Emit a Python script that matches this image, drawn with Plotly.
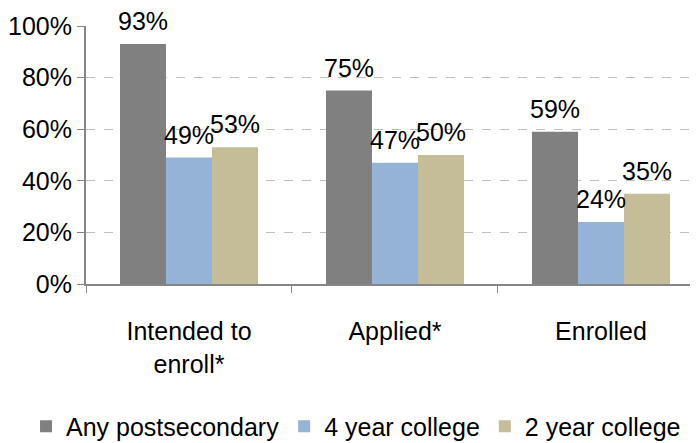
import plotly.graph_objects as go

categories = ["Intended to<br>enroll*", "Applied*", "Enrolled"]
series_names = ["Any postsecondary", "4 year college", "2 year college"]
any_post = [0.93, 0.75, 0.59]
four_year = [0.49, 0.47, 0.24]
two_year = [0.53, 0.50, 0.35]
colors = ["#808080", "#95B3D7", "#C4BD97"]
tick_vals = [0, 0.2, 0.4, 0.6, 0.8, 1.0]
tick_text = ["0%", "20%", "40%", "60%", "80%", "100%"]

FONT = "Liberation Sans, Arial, sans-serif"
BARGAP = 0.33
PLOT_W = 612
X_RANGE = [-0.5, 2.471]

fig = go.Figure()
all_series = [any_post, four_year, two_year]
for name, vals, col in zip(series_names, all_series, colors):
    fig.add_trace(go.Bar(
        x=categories, y=vals, name=name, marker=dict(color=col, line=dict(width=0)),
        cliponaxis=False,
    ))

# data labels above bars
px_per_unit = PLOT_W / (X_RANGE[1] - X_RANGE[0])
bar_px = px_per_unit * (1 - BARGAP) / len(all_series)
for i, vals in enumerate(all_series):
    for cat, v in zip(categories, vals):
        fig.add_annotation(
            x=cat, y=v, xref="x", yref="y", text=f"{round(v*100)}%",
            showarrow=False, yanchor="bottom", xanchor="center",
            xshift=(i - 1) * bar_px, yshift=7,
            font=dict(size=25, color="#000000", family=FONT),
        )

fig.update_layout(
    width=690, height=435,
    margin=dict(l=78, r=0, t=18, b=159, autoexpand=False),
    barmode="group", bargap=BARGAP, bargroupgap=0,
    plot_bgcolor="white", paper_bgcolor="white",
    font=dict(family=FONT, size=25, color="#000000"),
    showlegend=True,
    legend=dict(orientation="h", x=-0.098, xanchor="left", y=-0.552, yanchor="middle",
                font=dict(size=25, family=FONT), traceorder="normal",
                bgcolor="rgba(0,0,0,0)", borderwidth=0),
    xaxis=dict(range=X_RANGE, showline=True, linecolor="#868686", linewidth=2,
               ticks="outside", tickson="boundaries", ticklen=7, tickcolor="#868686",
               tickfont=dict(size=25, family=FONT), ticklabelstandoff=24, showgrid=False,
               automargin=False),
    yaxis=dict(range=[0, 1.0], tickvals=tick_vals, ticktext=tick_text,
               showline=True, linecolor="#868686", linewidth=2,
               ticks="outside", ticklen=7, tickcolor="#868686",
               tickfont=dict(size=25, family=FONT),
               showgrid=True, gridcolor="#BFBFBF", griddash="dash", gridwidth=1,
               zeroline=False, automargin=False),
)

fig.write_html("out.html")
